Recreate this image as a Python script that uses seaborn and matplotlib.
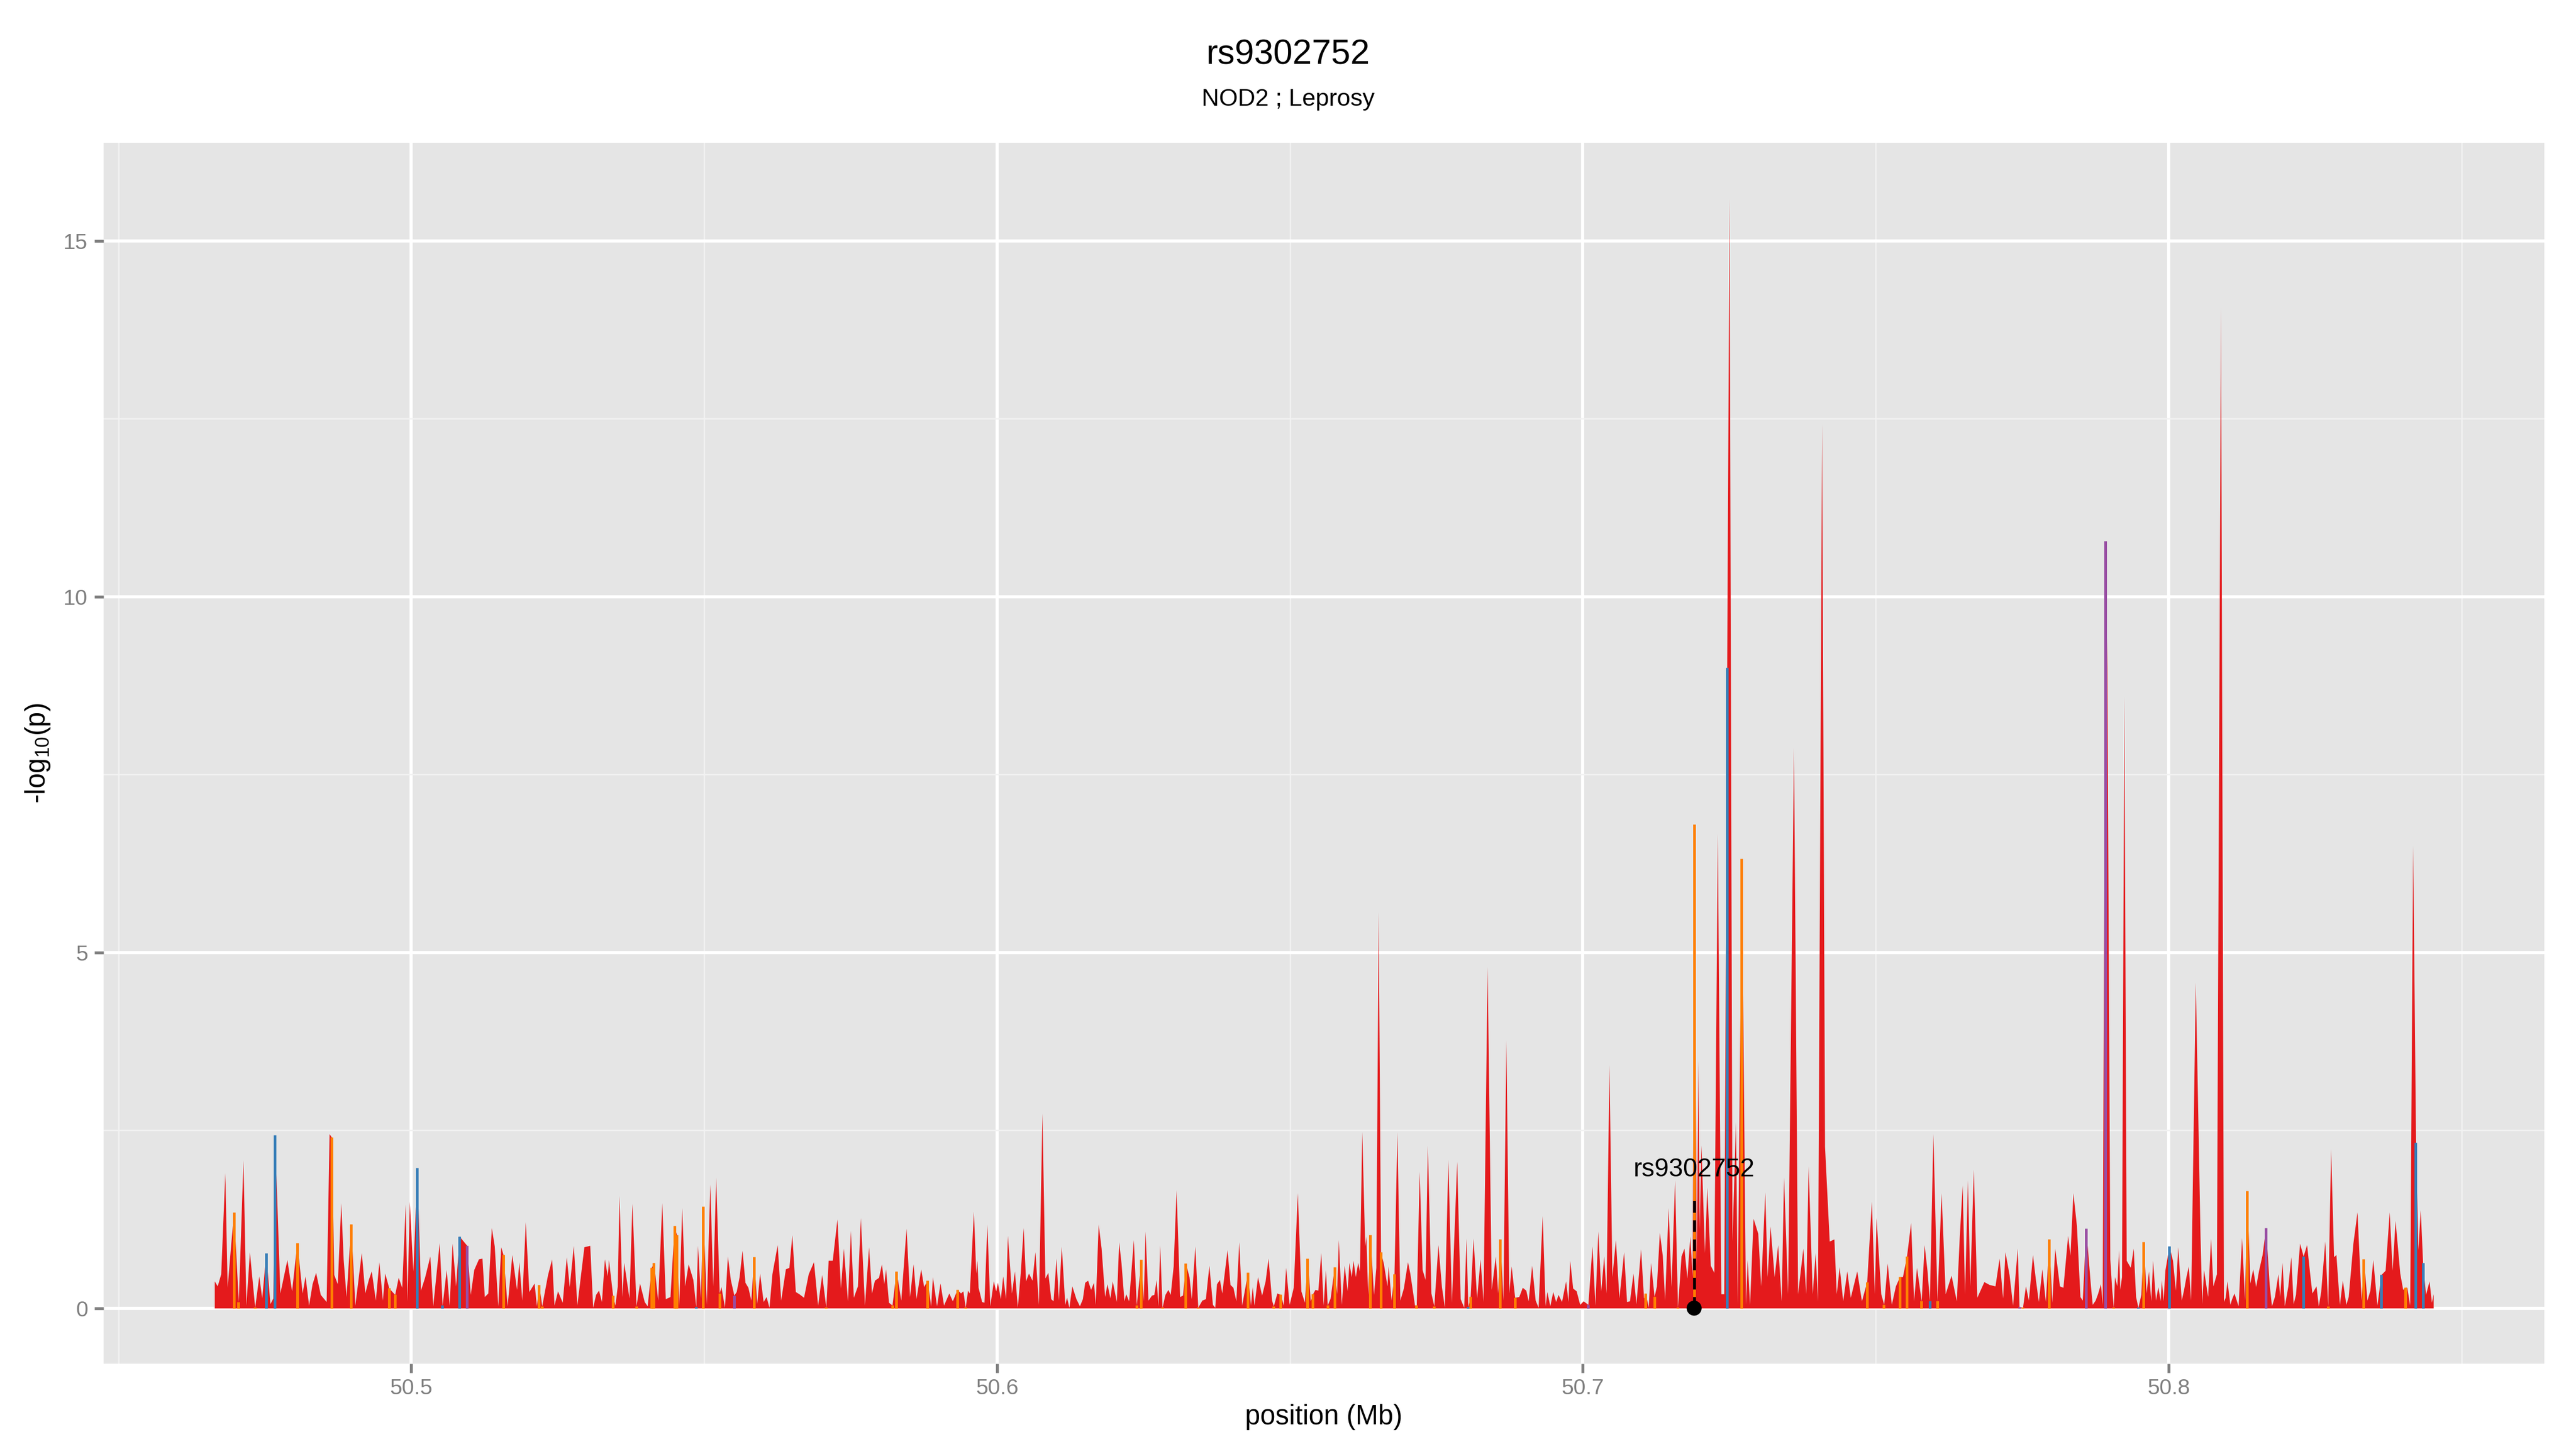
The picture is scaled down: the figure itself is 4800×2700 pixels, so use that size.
import numpy as np
import pandas as pd
import matplotlib
matplotlib.use("Agg")
import matplotlib.pyplot as plt
import seaborn as sns
from matplotlib.ticker import MultipleLocator, FixedLocator

# ---------------- data ----------------
title = "rs9302752"
subtitle = "NOD2 ; Leprosy"
x_label = "position (Mb)"
y_label = "-log$_{10}$(p)"
lead_snp = "rs9302752"
lead_pos = 50.7190
lead_label_y = 1.95
lead_line_top = 1.55

x_ticks = [50.5, 50.6, 50.7, 50.8]
y_ticks = [0, 5, 10, 15]

snp_pos = [
    50.4664, 50.4669, 50.4675, 50.4682, 50.4686, 50.4692, 50.4697, 50.4705, 50.4713, 50.4718,
    50.4724, 50.4733, 50.4740, 50.4745, 50.4752, 50.4759, 50.4764, 50.4767, 50.4776, 50.4788,
    50.4796, 50.4805, 50.4814, 50.4819, 50.4825, 50.4831, 50.4837, 50.4845, 50.4855, 50.4860,
    50.4864, 50.4868, 50.4874, 50.4880, 50.4884, 50.4889, 50.4897, 50.4904, 50.4915, 50.4921,
    50.4927, 50.4932, 50.4939, 50.4945, 50.4951, 50.4955, 50.4962, 50.4972, 50.4978, 50.4984,
    50.4990, 50.4993, 50.4997, 50.5003, 50.5010, 50.5016, 50.5023, 50.5032, 50.5037, 50.5048,
    50.5053, 50.5060, 50.5065, 50.5070, 50.5076, 50.5082, 50.5095, 50.5101, 50.5107, 50.5115,
    50.5121, 50.5125, 50.5131, 50.5137, 50.5142, 50.5148, 50.5153, 50.5157, 50.5164, 50.5172,
    50.5180, 50.5184, 50.5189, 50.5195, 50.5201, 50.5210, 50.5214, 50.5218, 50.5223, 50.5233,
    50.5240, 50.5244, 50.5250, 50.5258, 50.5265, 50.5270, 50.5277, 50.5283, 50.5295,
    50.5305, 50.5310, 50.5315, 50.5320, 50.5325, 50.5330, 50.5335, 50.5337, 50.5344, 50.5348,
    50.5352, 50.5355, 50.5360, 50.5363, 50.5372, 50.5377, 50.5384, 50.5390, 50.5398, 50.5403,
    50.5410, 50.5414, 50.5421, 50.5428, 50.5434, 50.5442, 50.5449, 50.5453, 50.5457, 50.5462,
    50.5467, 50.5473, 50.5481, 50.5486, 50.5489, 50.5494, 50.5498, 50.5504, 50.5510, 50.5515,
    50.5520, 50.5526, 50.5529, 50.5535, 50.5540, 50.5545, 50.5551, 50.5555, 50.5560, 50.5565,
    50.5570, 50.5575, 50.5580, 50.5585, 50.5590, 50.5595, 50.5601, 50.5606, 50.5611, 50.5616,
    50.5625, 50.5631, 50.5639, 50.5645, 50.5650, 50.5656, 50.5662, 50.5670, 50.5678, 50.5687,
    50.5694, 50.5701, 50.5708, 50.5712, 50.5719, 50.5727, 50.5733, 50.5738, 50.5745, 50.5750,
    50.5755, 50.5762, 50.5767, 50.5774, 50.5781, 50.5786, 50.5791, 50.5798, 50.5803, 50.5807,
    50.5810, 50.5815, 50.5821, 50.5828, 50.5836, 50.5845, 50.5851, 50.5857, 50.5862, 50.5870,
    50.5875, 50.5881, 50.5887, 50.5890, 50.5897, 50.5903, 50.5909, 50.5918, 50.5924, 50.5932,
    50.5938,
    50.5942, 50.5946, 50.5950, 50.5953, 50.5960, 50.5964, 50.5966, 50.5968, 50.5974, 50.5978,
    50.5983, 50.5988, 50.5994, 50.5998, 50.6001, 50.6006, 50.6010, 50.6015, 50.6018, 50.6025,
    50.6030, 50.6035, 50.6040, 50.6045, 50.6049, 50.6054, 50.6060, 50.6065, 50.6071, 50.6077,
    50.6082, 50.6087, 50.6092, 50.6096, 50.6101, 50.6105, 50.6110, 50.6116, 50.6119, 50.6123,
    50.6128, 50.6135, 50.6141, 50.6146, 50.6150, 50.6155, 50.6160, 50.6165, 50.6168, 50.6173,
    50.6178, 50.6184, 50.6188, 50.6193, 50.6197, 50.6204, 50.6208, 50.6212, 50.6217, 50.6220,
    50.6225, 50.6233, 50.6238, 50.6246, 50.6250, 50.6253, 50.6258, 50.6264, 50.6268, 50.6272,
    50.6275, 50.6278, 50.6282, 50.6287, 50.6292, 50.6296, 50.6301, 50.6306, 50.6312, 50.6317,
    50.6322, 50.6328, 50.6332, 50.6338, 50.6343, 50.6350, 50.6356, 50.6362, 50.6368, 50.6372,
    50.6375, 50.6380, 50.6384, 50.6393, 50.6398, 50.6403, 50.6408, 50.6413, 50.6418, 50.6428,
    50.6433, 50.6436, 50.6439, 50.6445, 50.6452, 50.6458, 50.6463, 50.6469, 50.6472, 50.6478,
    50.6484, 50.6489, 50.6493, 50.6499, 50.6506, 50.6513, 50.6519, 50.6525, 50.6530, 50.6535,
    50.6539, 50.6543, 50.6548, 50.6553, 50.6557, 50.6561, 50.6564, 50.6569, 50.6576,
    50.6580, 50.6583, 50.6588, 50.6593, 50.6598, 50.6601, 50.6605, 50.6608, 50.6612, 50.6616,
    50.6619, 50.6623, 50.6628, 50.6630, 50.6633, 50.6637, 50.6643, 50.6647, 50.6651, 50.6655,
    50.6660, 50.6666, 50.6668, 50.6673, 50.6678, 50.6683, 50.6688, 50.6694, 50.6701, 50.6705,
    50.6710, 50.6713, 50.6716, 50.6721, 50.6726, 50.6731, 50.6735, 50.6741, 50.6746, 50.6753,
    50.6759, 50.6764, 50.6770, 50.6776, 50.6785, 50.6791, 50.6797, 50.6801, 50.6804, 50.6808,
    50.6813, 50.6819, 50.6825, 50.6830, 50.6837, 50.6844, 50.6851, 50.6855, 50.6859, 50.6864,
    50.6869, 50.6874, 50.6878, 50.6884, 50.6891, 50.6897, 50.6903, 50.6907, 50.6913, 50.6919,
    50.6924, 50.6931, 50.6936, 50.6939, 50.6944, 50.6949, 50.6954, 50.6958, 50.6964, 50.6971,
    50.6975, 50.6978, 50.6983, 50.6989, 50.6995, 50.7001, 50.7009, 50.7016, 50.7021, 50.7026,
    50.7031, 50.7036, 50.7040, 50.7045, 50.7050, 50.7056, 50.7062, 50.7070, 50.7075, 50.7080,
    50.7086, 50.7091, 50.7099, 50.7104, 50.7107, 50.7112, 50.7116, 50.7122, 50.7126, 50.7131,
    50.7136, 50.7140, 50.7146, 50.7151, 50.7157, 50.7162, 50.7168, 50.7173, 50.7178, 50.7183,
    50.7187, 50.7190, 50.7194, 50.7197, 50.7199, 50.7202, 50.7208, 50.7212, 50.7218,
    50.7224, 50.7230, 50.7236, 50.7241, 50.7246, 50.7250, 50.7255, 50.7261, 50.7264, 50.7271,
    50.7278, 50.7281, 50.7285, 50.7291, 50.7299, 50.7304, 50.7311, 50.7315, 50.7320, 50.7327,
    50.7333, 50.7339, 50.7343, 50.7350, 50.7360, 50.7367, 50.7376, 50.7381, 50.7385, 50.7392,
    50.7397, 50.7401, 50.7408, 50.7413, 50.7421, 50.7429, 50.7433, 50.7438, 50.7444, 50.7451,
    50.7457, 50.7468, 50.7476, 50.7485, 50.7493, 50.7498, 50.7501, 50.7509, 50.7514, 50.7520,
    50.7527, 50.7534, 50.7541, 50.7546, 50.7553, 50.7560, 50.7565, 50.7570, 50.7578, 50.7583,
    50.7588, 50.7592, 50.7598, 50.7605, 50.7612, 50.7619, 50.7629, 50.7638, 50.7643, 50.7648,
    50.7652, 50.7657, 50.7661, 50.7667, 50.7673, 50.7685,
    50.7694, 50.7704, 50.7711, 50.7717, 50.7721, 50.7728, 50.7734, 50.7742, 50.7745, 50.7751,
    50.7756, 50.7761, 50.7768, 50.7773, 50.7778, 50.7784, 50.7790, 50.7796, 50.7801, 50.7806,
    50.7814, 50.7820, 50.7828, 50.7832, 50.7837, 50.7843, 50.7849, 50.7853, 50.7859,
    50.7867, 50.7870, 50.7875, 50.7879, 50.7884, 50.7887, 50.7892, 50.7895, 50.7900, 50.7903,
    50.7906, 50.7908, 50.7912, 50.7915, 50.7917, 50.7920, 50.7924, 50.7928, 50.7935, 50.7940,
    50.7944, 50.7948, 50.7953, 50.7957, 50.7962, 50.7966, 50.7970, 50.7973, 50.7978, 50.7982,
    50.7986, 50.7988, 50.7991, 50.7994, 50.8001, 50.8007, 50.8012, 50.8016, 50.8022, 50.8026,
    50.8030, 50.8034, 50.8038, 50.8046, 50.8054, 50.8057, 50.8060, 50.8067, 50.8072, 50.8076,
    50.8082, 50.8089, 50.8094, 50.8097, 50.8100, 50.8105, 50.8108, 50.8112, 50.8119, 50.8125,
    50.8130, 50.8134, 50.8139, 50.8144, 50.8149, 50.8154, 50.8160, 50.8166, 50.8172, 50.8176,
    50.8181, 50.8187, 50.8190, 50.8194, 50.8198, 50.8204, 50.8209, 50.8213, 50.8217, 50.8224,
    50.8230, 50.8236, 50.8241, 50.8245, 50.8252, 50.8256, 50.8260, 50.8267, 50.8272, 50.8277,
    50.8282, 50.8286, 50.8292, 50.8297, 50.8303, 50.8307, 50.8315, 50.8322, 50.8329, 50.8333,
    50.8339, 50.8344, 50.8349, 50.8356, 50.8363, 50.8370, 50.8377, 50.8382, 50.8387, 50.8395,
    50.8400, 50.8404, 50.8407, 50.8412, 50.8417, 50.8422, 50.8426, 50.8430, 50.8434, 50.8439,
    50.8445, 50.8449, 50.8452,
]

snp_logp = [
    0.38, 0.31, 0.48, 1.90, 0.29, 0.89, 1.35, 0.09, 2.08, 0.04,
    0.79, 0.01, 0.45, 0.14, 0.77, 0.06, 0.14, 2.43, 0.21, 0.68,
    0.24, 0.92, 0.21, 0.45, 0.04, 0.34, 0.50, 0.19, 0.09, 2.45,
    2.40, 0.47, 0.34, 1.48, 0.69, 0.16, 1.18, 0.04, 0.78, 0.21,
    0.40, 0.52, 0.11, 0.65, 0.11, 0.49, 0.28, 0.19, 0.43, 0.29,
    1.46, 0.10, 1.50, 0.52, 1.97, 0.25, 0.43, 0.73, 0.03, 0.92,
    0.04, 0.54, 0.04, 0.91, 0.31, 1.01, 0.88, 0.19, 0.54, 0.69,
    0.70, 0.16, 0.21, 1.13, 0.87, 0.03, 0.86, 0.75, 0.03, 0.75,
    0.26, 0.65, 0.11, 1.21, 0.23, 0.35, 0.03, 0.33, 0.03, 0.47,
    0.69, 0.04, 0.24, 0.08, 0.72, 0.30, 0.88, 0.04, 0.86,
    0.88, 0.01, 0.19, 0.25, 0.09, 0.69, 0.45, 0.68, 0.18, 0.04,
    0.31, 1.58, 0.16, 0.64, 0.14, 1.47, 0.03, 0.35, 0.09, 0.03,
    0.57, 0.64, 0.11, 1.48, 0.13, 0.16, 1.16, 1.03, 0.04, 1.41,
    0.31, 0.62, 0.40, 0.02, 0.88, 0.14, 1.43, 0.05, 1.74, 0.31,
    1.84, 0.21, 0.30, 0.01, 0.73, 0.40, 0.18, 0.23, 0.44, 0.81,
    0.36, 0.29, 0.11, 0.72, 0.06, 0.49, 0.09, 0.16, 0.01, 0.48,
    0.89, 0.11, 0.55, 0.57, 1.03, 0.23, 0.20, 0.15, 0.48, 0.65,
    0.04, 0.47, 0.01, 0.67, 0.67, 1.25, 0.28, 0.84, 0.10, 1.09,
    0.15, 0.31, 1.27, 0.04, 0.86, 0.21, 0.39, 0.43, 0.62, 0.34,
    0.55, 0.08, 0.04, 0.52, 0.11, 1.12, 0.16, 0.62, 0.13, 0.55,
    0.30, 0.39, 0.03, 0.44, 0.03, 0.35, 0.04, 0.21, 0.10, 0.26,
    0.21,
    0.24, 0.01, 0.25, 0.21, 1.36, 0.49, 0.67, 0.29, 0.09, 0.08,
    1.18, 0.03, 0.38, 0.24, 0.36, 0.13, 0.45, 0.13, 1.02, 0.21,
    0.52, 0.01, 0.50, 1.13, 0.38, 0.49, 0.39, 0.79, 0.05, 2.74,
    0.42, 0.50, 0.13, 0.10, 0.70, 0.11, 0.87, 0.05, 0.15, 0.01,
    0.31, 0.13, 0.03, 0.13, 0.36, 0.39, 0.26, 0.36, 0.05, 1.18,
    0.84, 0.16, 0.34, 0.14, 0.38, 0.09, 0.93, 0.63, 0.10, 0.20,
    0.10, 0.96, 0.04, 0.68, 0.10, 1.08, 0.11, 0.18, 0.19, 0.40,
    0.03, 0.89, 0.01, 0.19, 0.26, 0.19, 0.59, 1.66, 0.16, 0.18,
    0.63, 0.44, 0.13, 0.87, 0.01, 0.11, 0.13, 0.60, 0.05, 0.01,
    0.34, 0.40, 0.21, 0.82, 0.33, 0.29, 0.10, 0.93, 0.04, 0.50,
    0.04, 0.30, 0.04, 0.44, 0.18, 0.38, 0.70, 0.11, 0.03, 0.21,
    0.19, 0.04, 0.57, 0.05, 0.29, 1.62, 0.24, 0.08, 0.70, 0.10,
    0.20, 0.26, 0.25, 0.78, 0.04, 0.54, 0.04, 0.14, 0.58,
    0.20, 0.96, 0.05, 0.60, 0.24, 0.64, 0.44, 0.67, 0.44, 0.64,
    0.52, 2.48, 0.87, 1.01, 0.19, 1.03, 0.19, 0.57, 5.57, 0.79,
    0.62, 0.31, 0.59, 0.11, 0.48, 2.48, 0.11, 0.28, 0.65, 0.49,
    0.21, 0.04, 0.04, 1.92, 0.54, 0.40, 2.29, 0.21, 0.03, 0.89,
    0.30, 0.01, 2.09, 0.08, 2.06, 0.13, 0.01, 0.98, 0.02, 0.16,
    0.98, 0.14, 0.69, 0.09, 4.80, 0.26, 0.73, 0.21, 0.97, 0.11,
    3.77, 0.21, 0.59, 0.15, 0.16, 0.29, 0.25, 0.10, 0.60, 0.11,
    0.01, 1.30, 0.03, 0.23, 0.03, 0.23, 0.09, 0.19, 0.09, 0.38,
    0.09, 0.67, 0.28, 0.24, 0.05, 0.10, 0.05, 0.87, 0.04, 1.08,
    0.24, 0.73, 0.21, 3.42, 0.44, 0.96, 0.14, 0.79, 0.09, 0.10,
    0.49, 0.06, 0.83, 0.14, 0.21, 0.01, 0.64, 0.16, 0.31, 1.06,
    0.74, 0.11, 1.41, 0.30, 1.80, 0.01, 0.73, 0.84, 0.42, 1.01,
    0.44, 6.80, 0.60, 3.48, 1.10, 2.29, 0.78, 1.70, 0.60,
    0.50, 6.67, 0.20, 0.20, 9.00, 15.60, 0.94, 2.62, 0.05, 6.32,
    0.05, 0.68, 0.05, 1.26, 1.05, 0.31, 1.63, 0.44, 1.15, 0.44,
    0.89, 0.10, 1.84, 0.20, 7.88, 0.20, 0.84, 0.20, 2.00, 0.20,
    0.78, 0.10, 12.43, 2.27, 0.94, 0.97, 0.20, 0.58, 0.10, 0.52,
    0.15, 0.52, 0.10, 0.37, 1.50, 0.20, 1.27, 0.20, 0.05, 0.63,
    0.05, 0.31, 0.44, 0.44, 0.73, 1.20, 0.10, 0.57, 0.10, 0.89,
    0.52, 0.10, 2.45, 0.10, 1.62, 0.20, 0.46, 0.10, 1.00, 1.73,
    0.20, 1.80, 0.31, 1.95, 0.15, 0.37,
    0.33, 0.31, 0.70, 0.14, 0.79, 0.47, 0.04, 0.84, 0.02, 0.01,
    0.31, 0.11, 0.75, 0.40, 0.09, 0.55, 0.09, 0.97, 0.08, 0.84,
    0.31, 0.29, 1.02, 0.74, 1.62, 1.16, 0.16, 0.11, 1.12,
    0.31, 0.05, 0.11, 0.20, 0.34, 0.05, 10.78, 9.00, 0.69, 0.29,
    0.01, 0.44, 0.31, 0.82, 0.26, 0.44, 8.60, 0.67, 0.57, 0.84,
    0.16, 0.01, 0.19, 0.93, 0.21, 0.52, 0.10, 0.67, 0.11, 0.30,
    0.10, 0.40, 0.10, 0.53, 0.87, 0.67, 0.25, 0.86, 0.11, 0.26,
    0.44, 0.59, 0.11, 4.58, 1.02, 0.06, 0.54, 0.16, 0.98, 0.31,
    0.48, 14.07, 0.09, 0.15, 0.38, 0.05, 0.13, 0.21, 0.03, 0.99,
    0.11, 1.65, 0.35, 0.55, 0.30, 0.53, 0.75, 1.13, 0.34, 0.03,
    0.16, 0.48, 0.16, 0.64, 0.03, 0.31, 0.72, 0.06, 0.19, 0.91,
    0.73, 0.89, 0.50, 0.21, 0.31, 0.03, 0.23, 0.94, 0.03, 2.24,
    0.72, 0.75, 0.05, 0.39, 0.05, 0.16, 0.91, 1.35, 0.11, 0.69,
    0.11, 0.25, 0.68, 0.04, 0.47, 0.53, 1.35, 0.53, 1.23, 0.49,
    0.26, 0.29, 0.29, 0.04, 6.50, 2.33, 0.82, 1.38, 0.64, 0.19,
    0.38, 0.08, 0.20,
]

# SNPs falling in the other LD classes (all remaining SNPs are in the red class)
ld_orange = [
    50.4697, 50.4705, 50.4733, 50.4805, 50.4864, 50.4897, 50.4962, 50.4972, 50.5157, 50.5218,
    50.5223, 50.5344, 50.5384, 50.5410, 50.5414, 50.5449, 50.5453, 50.5498, 50.5526, 50.5585,
    50.5708, 50.5821, 50.5828, 50.5881, 50.5932, 50.5946, 50.6238, 50.6246, 50.6282, 50.6322,
    50.6343, 50.6428, 50.6472, 50.6484, 50.6530, 50.6539, 50.6564, 50.6576, 50.6637, 50.6655,
    50.6678, 50.6716, 50.6746, 50.6808, 50.6859, 50.6884, 50.7107, 50.7122, 50.7162, 50.7190,
    50.7271, 50.7485, 50.7514, 50.7541, 50.7553, 50.7578, 50.7605, 50.7751, 50.7796, 50.7906,
    50.7957, 50.8134, 50.8272, 50.8333, 50.8404,
]
ld_blue = [
    50.4752, 50.4767, 50.5010, 50.5053, 50.5082, 50.5486, 50.6804, 50.7246, 50.7592, 50.7948,
    50.8001, 50.8230, 50.8363, 50.8422, 50.8434,
]
ld_purple = [50.5095, 50.5551, 50.7009, 50.7745, 50.7859, 50.7892, 50.8166]

ld_colors = {"red": "#E41A1C", "orange": "#FF7F00", "blue": "#377EB8", "purple": "#984EA3"}

# ---------------- frame ----------------
df = pd.DataFrame({"pos": snp_pos, "logp": snp_logp})
key = df["pos"].round(4)
df["ld"] = "red"
df.loc[key.isin(np.round(ld_orange, 4)), "ld"] = "orange"
df.loc[key.isin(np.round(ld_blue, 4)), "ld"] = "blue"
df.loc[key.isin(np.round(ld_purple, 4)), "ld"] = "purple"

# ---------------- style ----------------
sns.set_theme(style="darkgrid", rc={
    "axes.facecolor": "#E5E5E5",
    "figure.facecolor": "white",
    "grid.color": "white",
})
plt.rcParams["font.family"] = ["Liberation Sans", "DejaVu Sans"]
plt.rcParams["mathtext.fontset"] = "custom"
plt.rcParams["mathtext.rm"] = "Liberation Sans"
plt.rcParams["mathtext.default"] = "regular"

fig = plt.figure(figsize=(16, 9), dpi=300)
ax = fig.add_axes([0.0402, 0.0589, 0.9475, 0.8426])
ax.set_facecolor("#E5E5E5")
ax.set_axisbelow(True)

# red area over all SNPs, other LD classes as thin strips on top
ax.fill_between(df["pos"], 0, df["logp"], color=ld_colors["red"], lw=0, zorder=2)
for cls in ["orange", "blue", "purple"]:
    sub = df[df["ld"] == cls]
    ax.vlines(sub["pos"], 0, sub["logp"], color=ld_colors[cls], lw=1.2, zorder=3)

# lead SNP marker
ax.plot([lead_pos, lead_pos], [0, lead_line_top], color="black", lw=1.3,
        ls=(0, (4, 2.6)), zorder=4)
sns.scatterplot(x=[lead_pos], y=[0], color="black", s=45, edgecolor="none",
                ax=ax, zorder=5, legend=False)
ax.text(lead_pos, lead_label_y, lead_snp, ha="center", va="center",
        fontsize=11.5, color="black", zorder=6)

# limits with 5% expansion, like the source
xmin, xmax = df["pos"].min(), df["pos"].max()
xpad = 0.05 * (xmax - xmin)
ymax = df["logp"].max()
ax.set_xlim(xmin - xpad, xmax + xpad)
ax.set_ylim(-0.05 * ymax, ymax * 1.05)

ax.xaxis.set_major_locator(FixedLocator(x_ticks))
ax.yaxis.set_major_locator(FixedLocator(y_ticks))
ax.xaxis.set_minor_locator(MultipleLocator(0.05))
ax.yaxis.set_minor_locator(MultipleLocator(2.5))
ax.set_xticklabels([f"{t:.1f}" for t in x_ticks])
ax.set_yticklabels([str(t) for t in y_ticks])

ax.grid(which="major", color="white", lw=1.4)
ax.grid(which="minor", color="#F2F2F2", lw=0.6)
for s in ax.spines.values():
    s.set_visible(False)

ax.tick_params(axis="both", which="major", length=4, width=1.3, color="#7F7F7F",
               labelcolor="#7F7F7F", labelsize=9.8, bottom=True, left=True)
ax.tick_params(axis="x", which="major", pad=2.5)
ax.tick_params(axis="y", which="major", pad=3)
ax.tick_params(which="minor", length=0)

ax.set_xlabel(x_label, fontsize=12.2, color="black", labelpad=2.5)
ax.set_ylabel(y_label, fontsize=12.2, color="black", labelpad=5)

fig.text(0.5, 1 - 103 / 2700, title, ha="center", va="center", fontsize=15.5, color="black")
fig.text(0.5, 1 - 186 / 2700, subtitle, ha="center", va="center", fontsize=10.8, color="black")

fig.savefig("out.png", dpi=300)
